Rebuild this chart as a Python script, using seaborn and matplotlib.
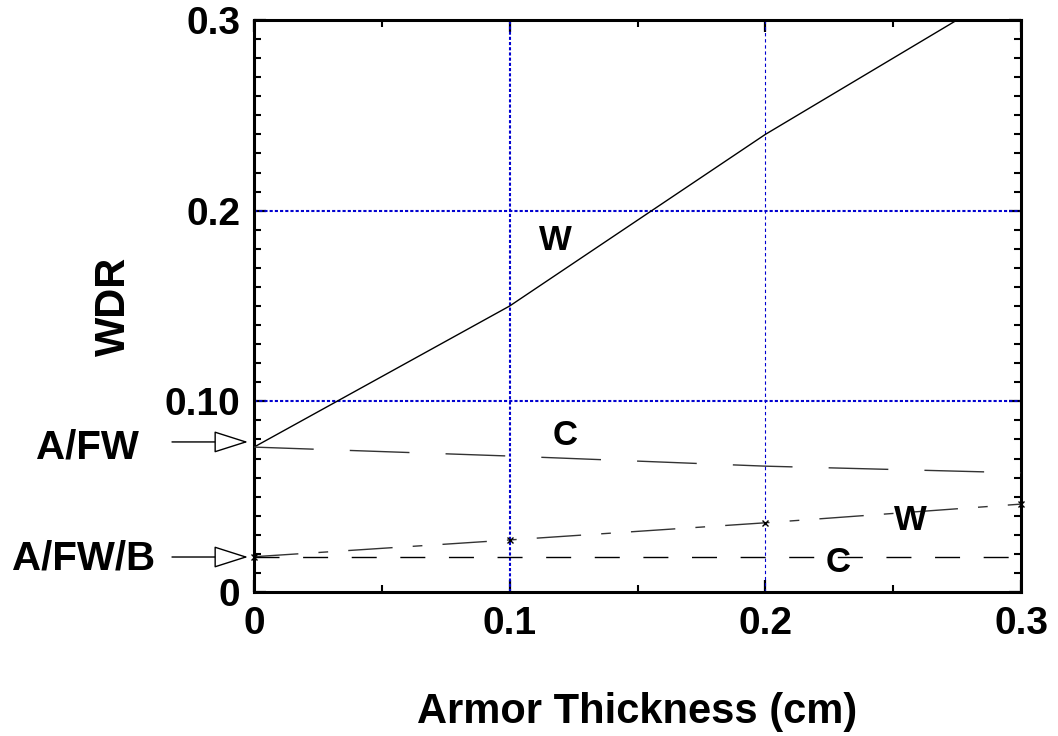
import matplotlib
matplotlib.use("Agg")
import matplotlib.pyplot as plt
import matplotlib.transforms as mtransforms
from matplotlib.ticker import MultipleLocator, FixedLocator
import seaborn as sns
import pandas as pd

# ---- data ----
thickness = [0.0, 0.1, 0.2, 0.3]
w_afw = [0.076, 0.150, 0.240, 0.320]
c_afw = [0.076, 0.0713, 0.066, 0.0625]
w_afwb = [0.0185, 0.0273, 0.0363, 0.0461]
c_afwb = [0.0185, 0.0185, 0.0185, 0.0185]
y_ticks = [0.0, 0.1, 0.2, 0.3]
y_ticklabels = ["0", "0.10", "0.2", "0.3"]
x_ticks = [0.0, 0.1, 0.2, 0.3]
x_ticklabels = ["0", "0.1", "0.2", "0.3"]

sns.set_theme(style="ticks")
plt.rcParams["font.family"] = ["Liberation Sans", "DejaVu Sans"]
plt.rcParams["font.weight"] = "bold"
plt.rcParams["axes.labelweight"] = "bold"
plt.rcParams["text.color"] = "black"
plt.rcParams["axes.labelcolor"] = "black"

fig = plt.figure(figsize=(10.58, 7.36), dpi=100)
ax = fig.add_axes([254 / 1058, 144 / 736, 767 / 1058, 572 / 736])

df = pd.DataFrame({"x": thickness, "w1": w_afw, "c1": c_afw, "w2": w_afwb, "c2": c_afwb})

blue = "#0000d0"
# grid lines
ax.axvline(0.1, color=blue, lw=1.5, ls=(0, (1.5, 1.0)), zorder=1)
ax.axhline(0.1, color=blue, lw=1.5, ls=(0, (1.5, 1.0)), zorder=1)
ax.axhline(0.2, color=blue, lw=1.5, ls=(0, (1.5, 1.0)), zorder=1)
ax.axvline(0.2, color=blue, lw=0.8, ls=(0, (3, 2.5)), zorder=1)

sns.lineplot(data=df, x="x", y="w1", ax=ax, color="black", lw=1.0, zorder=3)
sns.lineplot(data=df, x="x", y="c1", ax=ax, color="#333333", lw=1.0,
             linestyle=(0, (43, 26)), zorder=3)
sns.lineplot(data=df, x="x", y="w2", ax=ax, color="#333333", lw=1.0,
             linestyle=(0, (32, 14.5, 7, 14.5)), marker="x", markersize=5,
             markeredgecolor="black", markeredgewidth=1.0, zorder=3, clip_on=False)
sns.lineplot(data=df, x="x", y="c2", ax=ax, color="black", lw=1.0,
             linestyle=(0, (18, 17)), zorder=3)

ax.set_xlim(0, 0.3)
ax.set_ylim(0, 0.3)

ax.xaxis.set_major_locator(FixedLocator(x_ticks))
ax.set_xticklabels(x_ticklabels)
ax.yaxis.set_major_locator(FixedLocator(y_ticks))
ax.set_yticklabels(y_ticklabels)
ax.xaxis.set_minor_locator(MultipleLocator(0.05))
ax.yaxis.set_minor_locator(MultipleLocator(0.01))

ax.tick_params(which="both", direction="in", top=True, right=True, color="black")
ax.tick_params(which="major", length=8.6, width=1.6, labelsize=28, pad=10,
               labelcolor="black")
ax.tick_params(which="minor", length=5, width=1.5)
for lab in ax.get_xticklabels() + ax.get_yticklabels():
    lab.set_fontweight("bold")

for sp in ax.spines.values():
    sp.set_linewidth(2.2)
    sp.set_color("black")
    sp.set_visible(True)

ax.set_xlabel("Armor Thickness (cm)", fontsize=30, fontweight="bold", labelpad=36,
              color="black")
ax.set_ylabel("WDR", fontsize=30, fontweight="bold", labelpad=22, color="black")

# curve labels
ax.text(0.1177, 0.1846, "W", fontsize=25, fontweight="bold", ha="center", va="center")
ax.text(0.1216, 0.0823, "C", fontsize=25, fontweight="bold", ha="center", va="center")
ax.text(0.2566, 0.0375, "W", fontsize=25, fontweight="bold", ha="center", va="center")
ax.text(0.2284, 0.0157, "C", fontsize=25, fontweight="bold", ha="center", va="center")

# left annotations with arrows
trans = mtransforms.blended_transform_factory(fig.transFigure, ax.transData)
ax.text(36 / 1058, 0.076, "A/FW", transform=trans, fontsize=29, fontweight="bold",
        ha="left", va="center", color="black")
ax.text(12 / 1058, 0.0178, "A/FW/B", transform=trans, fontsize=29, fontweight="bold",
        ha="left", va="center", color="black")
for yv in [0.0787, 0.01835]:
    ax.annotate("", xy=(248 / 1058, yv), xytext=(172 / 1058, yv),
                xycoords=trans, textcoords=trans, annotation_clip=False,
                arrowprops=dict(arrowstyle="-|>,head_length=1.1,head_width=0.35",
                                mutation_scale=20, fc="white", ec="black", lw=1.0,
                                shrinkA=0, shrinkB=0))

fig.savefig("out.png", dpi=100)
